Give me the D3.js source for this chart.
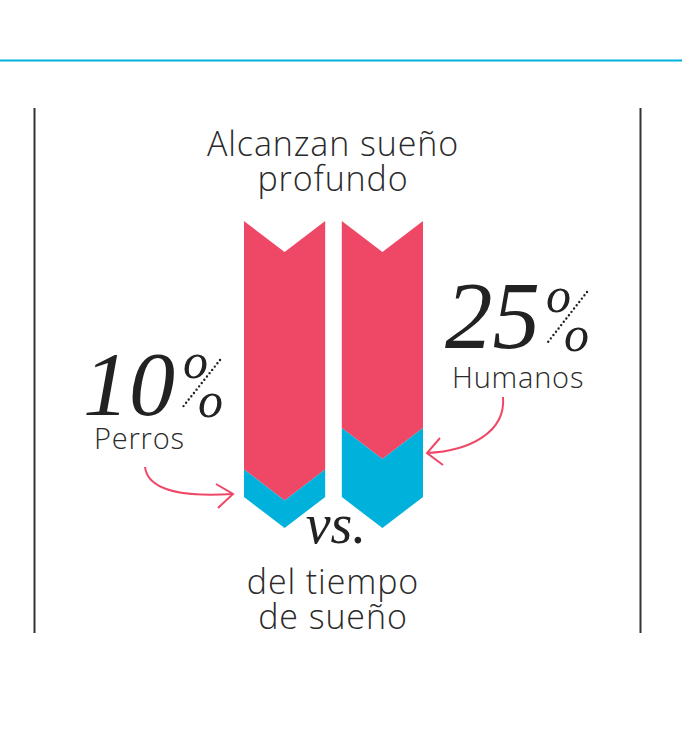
<!DOCTYPE html>
<html>
<head>
<meta charset="utf-8">
<script src="https://cdn.jsdelivr.net/npm/d3@7"></script>
<style>
  body { margin: 0; background: #fff; }
  .sans { font-family: "Open Sans", Lato, sans-serif; font-weight: 300; fill: #2a2a2a; }
  .serif { font-family: "Liberation Serif", "DejaVu Serif", serif; font-style: italic; fill: #222; }
</style>
</head>
<body>
<div id="chart-area"></div>
<script>

// Data: share of sleep time spent in deep sleep

let categories = ["Perros", "Humanos"];
let deepSleep = [10, 25];        // % del tiempo de sueño
let pctLabels = ["10", "25"];

let width = 682, height = 737;

let pink = "#ef4867",
    blue = "#00b1dc";

let svg = d3.select("#chart-area").append("svg")
    .attr("width", width)
    .attr("height", height);

// top rule and side frame lines
svg.append("line")
    .attr("x1", 0).attr("x2", width)
    .attr("y1", 60.5).attr("y2", 60.5)
    .attr("stroke", blue).attr("stroke-width", 2);

[34.5, 640.5].forEach(function(px){
  svg.append("line")
      .attr("x1", px).attr("x2", px)
      .attr("y1", 108).attr("y2", 633)
      .attr("stroke", "#333").attr("stroke-width", 2);
});

// Scales

let x = d3.scaleBand()
    .domain(categories)
    .range([244, 423])
    .paddingInner(0.17);

let y = d3.scaleLinear()
    .domain([0, 100])
    .range([497, 221]);

let notch = 31;

// chevron segment between two values
function chevron(cat, v0, v1) {
  let x0 = x(cat), x1 = x0 + x.bandwidth(), xc = (x0 + x1) / 2;
  let p = d3.path();
  p.moveTo(x0, y(v1));
  p.lineTo(xc, y(v1) + notch);
  p.lineTo(x1, y(v1));
  p.lineTo(x1, y(v0));
  p.lineTo(xc, y(v0) + notch);
  p.lineTo(x0, y(v0));
  p.closePath();
  return p.toString();
}

let data = categories.map(function(c, i){ return {cat: c, value: deepSleep[i], label: pctLabels[i]}; });

svg.selectAll(".bar-top")
    .data(data)
  .enter().append("path")
    .attr("class", "bar-top")
    .attr("d", function(d){ return chevron(d.cat, d.value, 100); })
    .attr("fill", pink);

svg.selectAll(".bar-deep")
    .data(data)
  .enter().append("path")
    .attr("class", "bar-deep")
    .attr("d", function(d){ return chevron(d.cat, 0, d.value); })
    .attr("fill", blue);

// titles (two lines each)

let cx = 333;

function title(lines, ty) {
  let t = svg.append("text").attr("class", "sans")
      .attr("text-anchor", "middle")
      .style("font-size", "34px")
      .style("letter-spacing", "0.9px");
  lines.forEach(function(l, i){
    t.append("tspan").attr("x", cx).attr("y", ty + i * 35).text(l);
  });
}

title(["Alcanzan sueño", "profundo"], 156);

svg.append("text").attr("class", "serif")
    .attr("x", cx + 3).attr("y", 543)
    .attr("text-anchor", "middle")
    .style("font-size", "56px")
    .text("vs.");

title(["del tiempo", "de sueño"], 594);

// annotations: big number with percent sign, name, arrow

let notes = [
  {num: {x: 83, y: 415, size: 92}, o1: [195, 378], o2: [210, 417], dots: [[220, 360], [182, 408]],
   name: {x: 94, y: 449}, arrow: "M145,467 C148,492 188,497 233,494", head: "M216,484 L233,494 L218,508"},
  {num: {x: 445, y: 348, size: 95}, o1: [558, 312], o2: [576, 351], dots: [[587, 292], [548, 342]],
   name: {x: 452, y: 388}, arrow: "M503,397 C506,432 470,451 427,453", head: "M440,438 L427,453 L443,465"}
];

notes.forEach(function(n, i){
  svg.append("line")
      .attr("x1", n.dots[0][0]).attr("y1", n.dots[0][1])
      .attr("x2", n.dots[1][0]).attr("y2", n.dots[1][1])
      .attr("stroke", "#222").attr("stroke-width", 2.4)
      .attr("stroke-linecap", "round")
      .attr("stroke-dasharray", "0 4.2");

  let t = svg.append("text").attr("class", "serif");
  t.append("tspan")
      .attr("x", n.num.x).attr("y", n.num.y)
      .style("font-size", n.num.size + "px")
      .text(data[i].label);
  [n.o1, n.o2].forEach(function(o){
    t.append("tspan")
        .attr("x", o[0] - 12).attr("y", o[1])
        .style("font-size", "50px")
        .text("o");
  });

  svg.append("text").attr("class", "sans")
      .attr("x", n.name.x).attr("y", n.name.y)
      .style("font-size", "29px")
      .style("letter-spacing", "0.8px")
      .text(data[i].cat);

  svg.append("path").attr("d", n.arrow)
      .attr("fill", "none").attr("stroke", pink).attr("stroke-width", 2);
  svg.append("path").attr("d", n.head)
      .attr("fill", "none").attr("stroke", pink).attr("stroke-width", 2);
});

</script>
</body>
</html>
